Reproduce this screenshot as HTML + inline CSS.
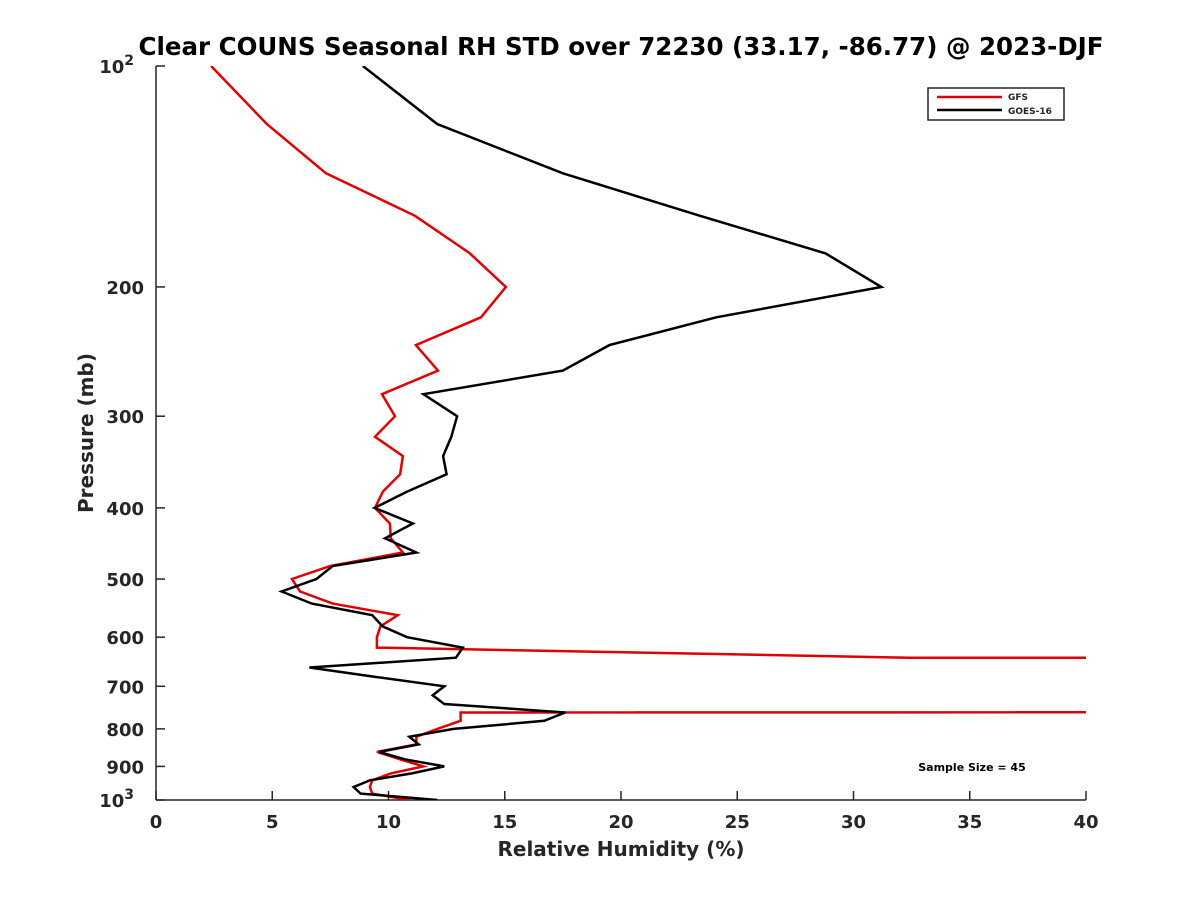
<!DOCTYPE html>
<html><head><meta charset="utf-8"><style>
body{margin:0;background:#fff}
svg text{font-family:"DejaVu Sans","Liberation Sans",sans-serif;font-weight:bold;fill:#262626}
</style></head><body>
<svg id="chart" width="1200" height="900" xmlns="http://www.w3.org/2000/svg">
<defs><clipPath id="clip"><rect x="156" y="66" width="930" height="734"/></clipPath></defs>
<rect width="1200" height="900" fill="#fff"/>
<text x="621" y="55" font-size="24.5" text-anchor="middle" style="fill:#000">Clear COUNS Seasonal RH STD over 72230 (33.17, -86.77) @ 2023-DJF</text>
<g id="axes"></g>
<g id="series" clip-path="url(#clip)"></g>
<text x="621" y="856" font-size="20" text-anchor="middle">Relative Humidity (%)</text>
<text transform="translate(93,433) rotate(-90)" font-size="20" text-anchor="middle">Pressure (mb)</text>
<g>
<rect x="928" y="88" width="136" height="32" fill="#fff" stroke="#262626" stroke-width="1.5"/>
<line x1="937" y1="97" x2="1002" y2="97" stroke="#e00000" stroke-width="2.5"/>
<text x="1008" y="100" font-size="9">GFS</text>
<line x1="937" y1="110" x2="1002" y2="110" stroke="#000" stroke-width="2.5"/>
<text x="1008" y="114" font-size="9">GOES-16</text>
</g>
<text x="972" y="771" font-size="11" text-anchor="middle" style="fill:#000">Sample Size = 45</text>
</svg>
<script>
const pressures=[100,120,140,160,180,200,220,240,260,280,300,320,340,360,380,400,420,440,460,480,500,520,540,560,580,600,620,640,660,680,700,720,740,760,780,800,820,840,860,880,900,920,940,960,980,1000];
const gfsValues=[2.37,4.77,7.31,11.14,13.5,15.05,13.98,11.18,12.13,9.72,10.28,9.42,10.62,10.5,9.76,9.42,10.06,10.1,10.62,7.5,5.85,6.2,7.6,10.4,9.65,9.5,9.5,32.4,999,null,null,null,999,13.1,13.1,12.1,11.2,11.2,9.5,10.5,11.5,10.1,9.3,9.2,9.3,10.9];
const goesValues=[8.9,12.1,17.5,23.4,28.8,31.2,24.1,19.5,17.5,11.5,12.95,12.7,12.35,12.5,10.8,9.4,11.05,9.85,11.2,7.6,6.9,5.4,6.7,9.3,9.75,10.8,13.2,12.9,6.6,9.5,12.4,11.9,12.4,17.6,16.7,12.8,10.9,11.3,9.6,10.7,12.4,11.0,9.2,8.5,8.8,12.1];
const xTicks=[0,5,10,15,20,25,30,35,40];
const yTicks=[100,200,300,400,500,600,700,800,900,1000];
const yTickLabels=["10²","200","300","400","500","600","700","800","900","10³"];
const NS="http://www.w3.org/2000/svg";
const X0=156,X1=1086,Y0=66,Y1=800;
const xs=v=>X0+(v/40)*(X1-X0);
const ys=p=>Y0+Math.log10(p/100)*(Y1-Y0);
function mk(t,a,parent){const e=document.createElementNS(NS,t);for(const k in a)e.setAttribute(k,a[k]);parent.appendChild(e);return e;}
const ax=document.getElementById('axes');
const yl=mk('line',{x1:X0,y1:Y0,x2:X0,y2:Y1,stroke:'#262626','stroke-width':1.5},ax);


const xl=mk('line',{x1:X0,y1:Y1,x2:X1,y2:Y1,stroke:'#262626','stroke-width':1.5},ax);


xTicks.forEach(v=>{
  mk('line',{x1:xs(v),y1:Y1,x2:xs(v),y2:Y1-9,stroke:'#262626','stroke-width':1.5},ax);
  const t=mk('text',{x:xs(v),y:Y1+28,'font-size':18,'text-anchor':'middle'},ax);
  t.textContent=v;
  
  
});
yTicks.forEach((p,i)=>{
  mk('line',{x1:X0,y1:ys(p),x2:X0+9,y2:ys(p),stroke:'#262626','stroke-width':1.5},ax);
  const lab=yTickLabels[i];
  const t=mk('text',{x:X0-12,y:ys(p)+7,'font-size':18,'text-anchor':'end'},ax);
  if(lab.length==3&&/[²³]/.test(lab)){
    t.textContent='10';
    const s=mk('tspan',{dy:-8,'font-size':14},t);s.textContent=lab==="10²"?"2":"3";
    t.setAttribute('x',X0-22);
  } else t.textContent=lab;
  
  
});
function drawLine(vals,color,name){
  const g=document.getElementById('series');
  let d='',pen=false;
  vals.forEach((v,i)=>{
    if(v===null){pen=false;return;}
    d+=(pen?'L':'M')+xs(v).toFixed(1)+','+ys(pressures[i]).toFixed(1);pen=true;
  });
  const p=mk('path',{d:d,fill:'none',stroke:color,'stroke-width':2.5,'stroke-linejoin':'miter'},g);
  
  
}
drawLine(gfsValues,'#e00000','gfs-line');
drawLine(goesValues,'#000','goes16-line');
</script>
</body></html>
